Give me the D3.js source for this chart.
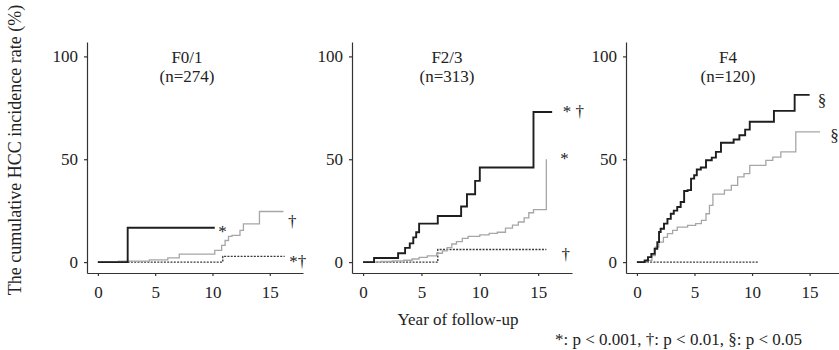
<!DOCTYPE html>
<html>
<head>
<meta charset="utf-8">
<script src="https://cdn.jsdelivr.net/npm/d3@7"></script>
<style>
  body { margin: 0; padding: 0; background: #fff; }
  text { font-family: "Liberation Serif", "Times New Roman", serif; fill: #222; }
</style>
</head>
<body>
<script>
// step data: [year, cumulative %], last point = end of follow-up
const f01Black = [[0,0],[2.6,16.7],[10.2,16.7]];
const f01Gray = [[0,0],[1.8,0.5],[4.5,1.1],[6.1,2.1],[7.1,3.9],[10.2,5.7],[10.8,8.1],[11.1,10.5],[11.4,12.5],[11.7,13],[12.4,15.4],[12.7,18.6],[14.1,24.6],[16.2,24.6]];
const f01Dash = [[0,0],[10.9,2.8],[16.3,2.8]];

const f23Black = [[0,0],[0.94,2],[3.0,4.3],[3.6,6.9],[4.0,9.1],[4.3,12],[4.55,14.5],[4.8,18.7],[6.4,22.4],[8.4,27],[8.9,33],[9.6,39.5],[10.0,46],[14.6,73],[16.2,73]];
const f23Gray = [[0,0],[1.5,0.3],[2.5,0.6],[3.5,0.9],[4.2,1.5],[4.8,2.3],[5.5,3],[6.3,4.3],[6.8,5.5],[7.2,7],[7.6,8.8],[8.0,10],[8.5,11.5],[9.0,12.5],[10.0,13.2],[10.8,14],[11.5,14.5],[12.2,16.5],[12.8,18],[13.3,19.5],[13.8,21.5],[14.2,24],[14.6,25.5],[15.7,50]];
const f23Dash = [[0,0],[6.4,6.1],[15.7,6.1]];

const f4Black = [[0,0],[0.67,0.8],[0.96,2.4],[1.25,4],[1.54,6.5],[1.77,9.7],[1.92,14.6],[2.06,16.2],[2.35,18.7],[2.65,21],[2.94,23.5],[3.2,25],[3.5,26.8],[3.8,29.2],[4.1,34.6],[4.4,35],[4.7,40.6],[4.97,42.2],[5.2,45],[5.55,46],[6.0,49.5],[6.5,50.8],[6.86,53.6],[7.3,58],[8.4,59.6],[8.9,61.7],[9.4,64.4],[9.8,68.2],[11.9,73.5],[13.7,81.3],[15.0,81.3]];
const f4Gray = [[0,0],[0.9,0.8],[1.3,3.2],[1.6,7.3],[1.9,9.7],[2.3,12],[2.65,13.8],[3.1,15.4],[3.5,17],[4.4,17.9],[5.1,18.7],[5.6,20.3],[6.0,23.5],[6.3,27.6],[6.6,33],[7.6,35],[8.2,37.3],[8.75,41.4],[9.3,43],[9.8,47],[11.2,49.5],[11.8,51],[12.5,53.6],[13.8,63.3],[15.9,63.3]];
const f4Dash = [[0,0],[10.6,0]];

const f01Notes = [{t:"*", x:10.5, y:15}, {t:"\u2020", x:16.6, y:20}, {t:"*\u2020", x:16.7, y:0.5}];
const f23Notes = [{t:"* \u2020", x:17.1, y:73.5}, {t:"*", x:16.9, y:50.5}, {t:"\u2020", x:17.0, y:4}];
const f4Notes = [{t:"\u00a7", x:15.7, y:79}, {t:"\u00a7", x:16.8, y:62}];

const titles = ["F0/1", "F2/3", "F4"];
const counts = ["(n=274)", "(n=313)", "(n=120)"];
const xTicks = [0, 5, 10, 15];
const yTicks = [0, 50, 100];

const W = 839, H = 350;
const svg = d3.select("body").append("svg")
  .attr("width", W)
  .attr("height", H);

const yScale = d3.scaleLinear().domain([-5.3, 107]).range([273, 42]);

const panels = [
  {range:[87,303], titleX:187, series:[f01Black,f01Gray,f01Dash], notes:f01Notes},
  {range:[352,572], titleX:447, series:[f23Black,f23Gray,f23Dash], notes:f23Notes},
  {range:[626,843], titleX:728, series:[f4Black,f4Gray,f4Dash], notes:f4Notes}
];

const styles = [
  {stroke:"#1e1e1e", width:1.9, dash:null},
  {stroke:"#a6a6a6", width:1.3, dash:null},
  {stroke:"#3a3a3a", width:1.4, dash:"2,1.3"}
];

panels.forEach((p,i)=>{
  const xScale = d3.scaleLinear().domain([-0.95, 17.9]).range(p.range);
  const g = svg.append("g");

  const xAxis = d3.axisBottom(xScale).tickValues(xTicks).tickSize(3).tickSizeOuter(0).tickPadding(10);
  const yAxis = d3.axisLeft(yScale).tickValues(yTicks).tickSize(3).tickSizeOuter(0).tickPadding(6);

  const gx = g.append("g")
    .attr("transform",`translate(0,${yScale.range()[0]})`)
    .call(xAxis);
  const gy = g.append("g")
    .attr("transform",`translate(${p.range[0]},0)`)
    .call(yAxis);

  [gx,gy].forEach(a=>{
    a.selectAll("path,line").attr("stroke","#333").attr("stroke-width",1.2);
    a.selectAll("text").style("font-size","17px").attr("fill","#222");
  });

  const line = d3.line()
    .x(d=>xScale(d[0]))
    .y(d=>yScale(d[1]))
    .curve(d3.curveStepAfter);

  // draw gray and dashed first, black on top
  [2,1,0].forEach(k=>{
    g.append("path")
      .datum(p.series[k])
      .attr("d", line)
      .attr("fill","none")
      .attr("stroke", styles[k].stroke)
      .attr("stroke-width", styles[k].width)
      .attr("stroke-dasharray", styles[k].dash);
  });

  g.selectAll("text.note")
    .data(p.notes)
    .join("text")
    .attr("class","note")
    .attr("x", d=>xScale(d.x))
    .attr("y", d=>yScale(d.y))
    .attr("dy","0.35em")
    .style("font-size","17px")
    .text(d=>d.t);

  g.append("text")
    .attr("x", p.titleX)
    .attr("y", 63)
    .attr("text-anchor","middle")
    .style("font-size","17px")
    .text(titles[i]);
  g.append("text")
    .attr("x", p.titleX)
    .attr("y", 82)
    .attr("text-anchor","middle")
    .style("font-size","17px")
    .text(counts[i]);
});

svg.append("text")
  .attr("transform","translate(21,150) rotate(-90)")
  .attr("text-anchor","middle")
  .style("font-size","18px")
  .text("The cumulative HCC incidence rate (%)");

svg.append("text")
  .attr("x",458)
  .attr("y",325)
  .attr("text-anchor","middle")
  .style("font-size","17px")
  .text("Year of follow-up");

svg.append("text")
  .attr("x",802)
  .attr("y",345)
  .attr("text-anchor","end")
  .style("font-size","17px")
  .text("*: p < 0.001, \u2020: p < 0.01, \u00a7: p < 0.05");
</script>
</body>
</html>
